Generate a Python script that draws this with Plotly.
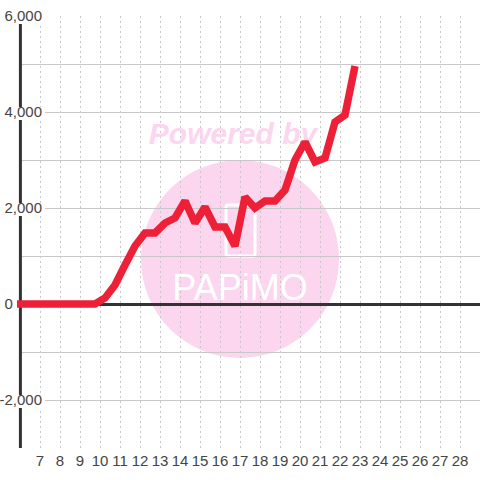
import plotly.graph_objects as go

days = [5.85, 6.25, 6.75, 7.25, 7.75, 8.25, 8.75, 9.25, 9.75, 10.25, 10.75, 11.25, 11.75, 12.25, 12.75,
        13.25, 13.75, 14.25, 14.75, 15.25, 15.75, 16.25, 16.75, 17.25, 17.75, 18.25, 18.75, 19.25,
        19.75, 20.25, 20.75, 21.25, 21.75, 22.25, 22.75]
values = [0, 0, 0, 0, 0, 0, 0, 0, 0, 125, 396, 812, 1208, 1479, 1479,
          1688, 1792, 2146, 1688, 2021, 1604, 1604, 1208, 2229, 2000, 2146, 2146, 2375,
          3000, 3375, 2958, 3042, 3792, 3938, 4958]

x_ticks = list(range(7, 29))
y_ticks = [-3000, -2000, -1000, 0, 1000, 2000, 3000, 4000, 5000, 6000]
NB = "\u00a0"
y_labels = ["", "-2,000", "", "0" + NB * 7, "", "2,000", "", "4,000", "", "6,000"]
label_box_ticks = [-2000, 2000, 4000, 6000]

GRID = "#c8c8c8"
INK = "#333333"
TEXT = "#444444"
RED = "#ee2038"
PINK = "#fbd6ee"

fig = go.Figure()

# white mask left of the axis, hides the gridlines there
fig.add_trace(go.Scatter(x=[5, 6, 6, 5, 5], y=[-3100, -3100, 6100, 6100, -3100], mode="lines",
                         fill="toself", fillcolor="white", line=dict(width=0), hoverinfo="skip"))
# dark vertical axis, drawn as a trace so that the label boxes can interrupt it
fig.add_trace(go.Scatter(x=[6.02, 6.02], y=[-3000, 6000], mode="lines",
                         line=dict(color=INK, width=3), hoverinfo="skip"))
# white boxes behind the y labels
for t in label_box_ticks:
    fig.add_trace(go.Scatter(x=[5, 7.25], y=[t - 30, t - 30], mode="lines",
                             line=dict(color="white", width=13), hoverinfo="skip"))
# watermark text
fig.add_trace(go.Scatter(x=[16.65], y=[3500], mode="text", text=["Powered by"],
                         textfont=dict(family="Liberation Sans", size=30, color=PINK, weight="bold", style="italic"),
                         hoverinfo="skip"))
fig.add_trace(go.Scatter(x=[17], y=[280], mode="text", text=["PAPiMO"],
                         textfont=dict(family="Liberation Sans", size=36, color="white"),
                         hoverinfo="skip"))
# series
fig.add_trace(go.Scatter(x=days, y=values, mode="lines", line=dict(color=RED, width=7.5)))

fig.add_shape(type="circle", xref="x", yref="y", x0=12.05, x1=21.95, y0=-1125, y1=3000,
              fillcolor=PINK, line=dict(width=0), layer="below")
fig.add_shape(type="path", xref="x", yref="y",
              path="M 16.4 1000 L 17.65 1000 Q 17.75 1000 17.75 1050 L 17.75 2010 Q 17.75 2060 17.65 2060 "
                   "L 16.4 2060 Q 16.3 2060 16.3 2010 L 16.3 1050 Q 16.3 1000 16.4 1000 Z",
              fillcolor="rgba(0,0,0,0)", line=dict(color="white", width=3), layer="below")

fig.update_layout(
    width=480, height=480, showlegend=False,
    margin=dict(l=0, r=0, t=16, b=32),
    paper_bgcolor="white", plot_bgcolor="white",
    font=dict(family="Liberation Sans", color=TEXT),
    xaxis=dict(range=[5, 29], tickmode="array", tickvals=x_ticks, ticktext=[str(v) for v in x_ticks],
               showgrid=True, gridcolor=GRID, gridwidth=1, griddash="2px,3px",
               showline=False, zeroline=False, ticks="", tickfont=dict(size=15), tickangle=0,
               ticklabelstandoff=2),
    yaxis=dict(range=[-3000, 6000], tickmode="array", tickvals=y_ticks, ticktext=y_labels,
               showgrid=True, gridcolor=GRID, gridwidth=1, showline=False,
               zeroline=True, zerolinecolor=INK, zerolinewidth=3, ticks="",
               tickfont=dict(size=15), ticklabelstandoff=-43),
)
fig.write_html("out.html", config={"displayModeBar": False},
               post_script="document.body.style.margin='0';")
